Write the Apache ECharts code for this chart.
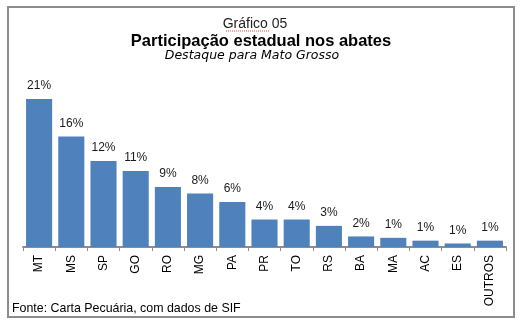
<!DOCTYPE html>
<html><head><meta charset="utf-8">
<script src="https://cdn.jsdelivr.net/npm/echarts@6/dist/echarts.min.js"></script>
<style>html,body{margin:0;padding:0;background:#fff}#c{width:531px;height:326px}</style>
</head><body><div id="c"></div>
<script>
const categories = ['MT','MS','SP','GO','RO','MG','PA','PR','TO','RS','BA','MA','AC','ES','OUTROS'];
const shares = [21.0, 15.7, 12.2, 10.8, 8.5, 7.6, 6.4, 3.9, 3.9, 3.0, 1.5, 1.3, 0.9, 0.5, 0.9];
const shareLabels = ['21%','16%','12%','11%','9%','8%','6%','4%','4%','3%','2%','1%','1%','1%','1%'];
const titleText = 'Gráfico 05';
const mainTitle = 'Participação estadual nos abates';
const subTitle = 'Destaque para Mato Grosso';
const sourceText = 'Fonte: Carta Pecuária, com dados de SIF';

const chart = echarts.init(document.getElementById('c'), null, {renderer:'canvas'});
chart.setOption({
  animation: false,
  backgroundColor: '#fff',
  grid: {left: 23, right: 25, top: 92, bottom: 79},
  xAxis: {
    type: 'category', data: categories,
    axisLine: {lineStyle: {color: '#8c8c8c', width: 2}},
    axisTick: {show: true, length: 4, lineStyle: {color: '#8c8c8c', width: 1}},
    axisLabel: {rotate: 90, margin: 8, color: '#000', fontSize: 12, fontFamily: 'Liberation Sans', interval: 0}
  },
  yAxis: {type: 'value', min: 0, max: 22, show: false, splitLine: {show: false}},
  series: [{
    type: 'bar', data: shares, barCategoryGap: '19%',
    itemStyle: {color: '#4f81bd'},
    label: {show: true, position: 'top', distance: 7, color: '#1a1a1a', fontSize: 12, fontFamily: 'Liberation Sans',
      formatter: p => shareLabels[p.dataIndex]}
  }],
  graphic: [
    {type: 'rect', shape: {x: 8, y: 7, width: 506, height: 310}, style: {fill: 'none', stroke: '#8c8c8c', lineWidth: 2}, silent: true, z: -1},
    {type: 'text', x: 255, y: 24, style: {text: titleText, font: '14px "Liberation Sans"', fill: '#222', textAlign: 'center', textVerticalAlign: 'middle'}},
    {type: 'line', shape: {x1: 226, y1: 31, x2: 270, y2: 31}, style: {stroke: '#e05050', lineWidth: 1, lineDash: [1, 1]}},
    {type: 'text', x: 261, y: 41, style: {text: mainTitle, font: 'bold 16.5px "Liberation Sans"', fill: '#000', textAlign: 'center', textVerticalAlign: 'middle'}},
    {type: 'text', x: 252, y: 56, style: {text: subTitle, font: 'italic 12.5px "DejaVu Sans"', fill: '#000', textAlign: 'center', textVerticalAlign: 'middle'}},
    {type: 'text', x: 12, y: 309, style: {text: sourceText, font: '12.4px "Liberation Sans"', fill: '#000', textAlign: 'left', textVerticalAlign: 'middle'}}
  ]
});
</script></body></html>
